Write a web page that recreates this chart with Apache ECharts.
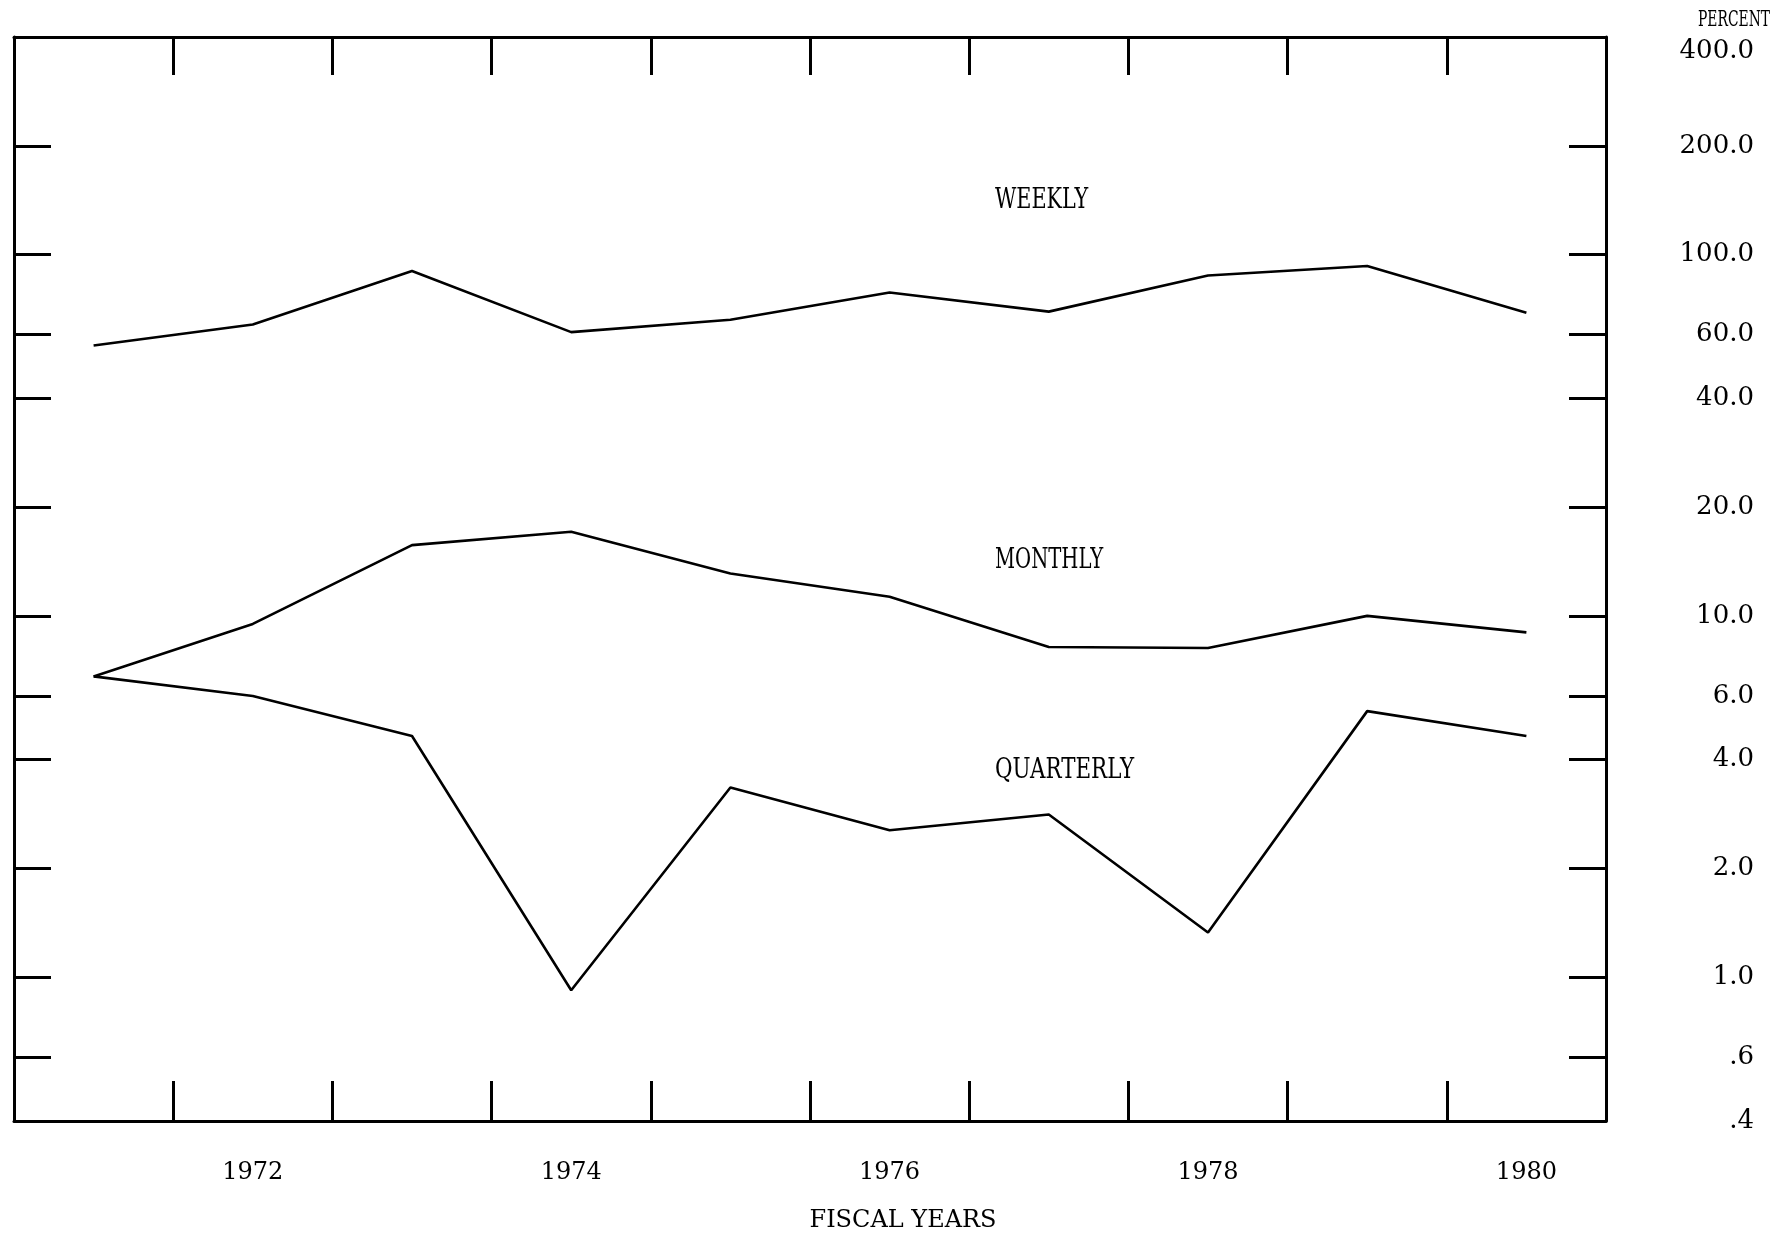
<!DOCTYPE html>
<html>
<head>
<meta charset="utf-8">
<script src="https://cdn.jsdelivr.net/npm/echarts@6/dist/echarts.min.js"></script>
<style>
  html, body { margin: 0; padding: 0; background: #fff; }
  #chart { width: 1788px; height: 1237px; }
</style>
</head>
<body>
<div id="chart"></div>
<script>
// ---- data ----
const years = ['1971', '1972', '1973', '1974', '1975', '1976', '1977', '1978', '1979', '1980'];
const weekly = [56, 64, 90, 61, 66, 78.5, 69.5, 87.5, 93, 69];
const monthly = [6.8, 9.5, 15.7, 17.1, 13.1, 11.3, 8.2, 8.15, 10.0, 9.0];
const quarterly = [6.8, 6.0, 4.65, 0.92, 3.35, 2.55, 2.82, 1.33, 5.45, 4.65];
const yTickValues = [0.4, 0.6, 1, 2, 4, 6, 10, 20, 40, 60, 100, 200, 400];
const yTickLabels = ['.4', '.6', '1.0', '2.0', '4.0', '6.0', '10.0', '20.0', '40.0', '60.0', '100.0', '200.0', '400.0'];
const seriesNames = ['WEEKLY', 'MONTHLY', 'QUARTERLY'];

const FONT = '"DejaVu Serif", serif';
const chart = echarts.init(document.getElementById('chart'), null, { renderer: 'canvas' });

function yLabel(v) {
  for (let i = 0; i < yTickValues.length; i++) {
    if (Math.abs(yTickValues[i] - v) / yTickValues[i] < 1e-6) {
      // top label sits a little below its tick, under the PERCENT heading
      return i === yTickValues.length - 1 ? '{low|' + yTickLabels[i] + '}' : yTickLabels[i];
    }
  }
  return '';
}

const lineCommon = { lineStyle: { color: '#000', width: 3 } };
const tickCommon = { lineStyle: { color: '#000', width: 3 } };

const option = {
  backgroundColor: '#fff',
  animation: false,
  grid: { left: 14, right: 182, top: 37, bottom: 116, outerBoundsMode: 'none', containLabel: false },
  xAxis: [
    {
      type: 'category', data: years, position: 'bottom', boundaryGap: true,
      axisLine: lineCommon,
      axisTick: Object.assign({ show: true, inside: true, length: 40, interval: 0, alignWithLabel: false }, tickCommon),
      axisLabel: {
        interval: (i) => i % 2 === 1,
        margin: 40, color: '#000', fontFamily: FONT, fontSize: 24
      },
      splitLine: { show: false }
    },
    {
      type: 'category', data: years, position: 'top', boundaryGap: true,
      axisLine: lineCommon,
      axisTick: Object.assign({ show: true, inside: true, length: 38, interval: 0, alignWithLabel: false }, tickCommon),
      axisLabel: { show: false },
      splitLine: { show: false }
    }
  ],
  yAxis: [
    {
      type: 'log', logBase: 10, min: 0.4, max: 400, position: 'right',
      axisLine: Object.assign({ show: true }, lineCommon),
      axisTick: Object.assign({ show: true, inside: true, length: 37, customValues: yTickValues }, tickCommon),
      axisLabel: {
        customValues: yTickValues, formatter: yLabel,
        align: 'right', margin: 148, color: '#000', fontFamily: FONT, fontSize: 26,
        rich: { low: { fontFamily: FONT, fontSize: 26, color: '#000', padding: [28, 0, 0, 0] } }
      },
      splitLine: { show: false }, minorTick: { show: false }
    },
    {
      type: 'log', logBase: 10, min: 0.4, max: 400, position: 'left',
      axisLine: Object.assign({ show: true }, lineCommon),
      axisTick: Object.assign({ show: true, inside: true, length: 37, customValues: yTickValues }, tickCommon),
      axisLabel: { show: false },
      splitLine: { show: false }, minorTick: { show: false }
    }
  ],
  series: [
    { name: seriesNames[0], type: 'line', data: weekly, symbol: 'none', lineStyle: { color: '#000', width: 2.6 } },
    { name: seriesNames[1], type: 'line', data: monthly, symbol: 'none', lineStyle: { color: '#000', width: 2.6 } },
    { name: seriesNames[2], type: 'line', data: quarterly, symbol: 'none', lineStyle: { color: '#000', width: 2.6 } }
  ],
  graphic: [
    { type: 'text', x: 1770, y: 20, scaleX: 0.63, style: { text: 'PERCENT', fontFamily: FONT, fontSize: 22, fill: '#000', align: 'right', verticalAlign: 'middle' } },
    { type: 'text', x: 995, y: 201, scaleX: 0.74, style: { text: seriesNames[0], fontFamily: FONT, fontSize: 28, fill: '#000', align: 'left', verticalAlign: 'middle' } },
    { type: 'text', x: 995, y: 561, scaleX: 0.70, style: { text: seriesNames[1], fontFamily: FONT, fontSize: 28, fill: '#000', align: 'left', verticalAlign: 'middle' } },
    { type: 'text', x: 995, y: 771, scaleX: 0.765, style: { text: seriesNames[2], fontFamily: FONT, fontSize: 28, fill: '#000', align: 'left', verticalAlign: 'middle' } },
    { type: 'text', x: 903, y: 1221, style: { text: 'FISCAL YEARS', fontFamily: FONT, fontSize: 24, fill: '#000', align: 'center', verticalAlign: 'middle' } }
  ]
};
chart.setOption(option);
</script>
</body>
</html>
